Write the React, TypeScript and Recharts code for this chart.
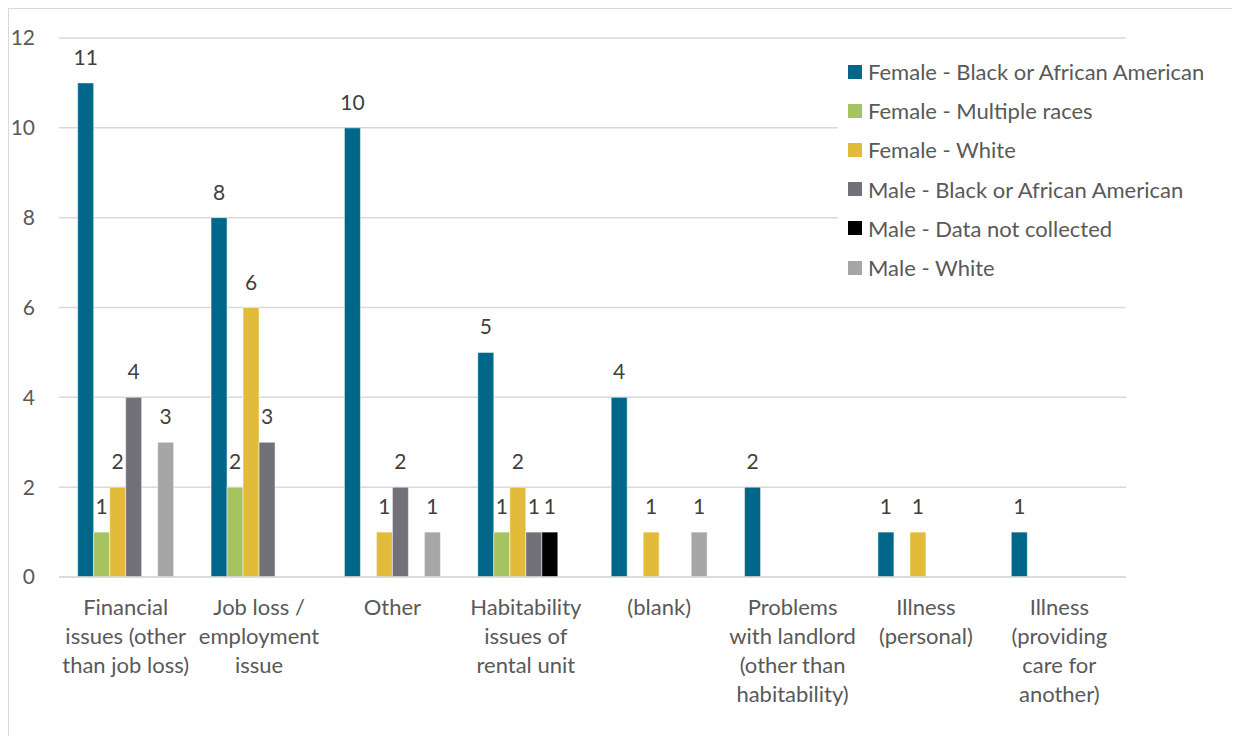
import React from 'react';
import { BarChart, Bar, XAxis, YAxis, CartesianGrid, Legend, LabelList } from 'recharts';

const categories = [
	'Financial\nissues (other\nthan job loss)',
	'Job loss /\nemployment\nissue',
	'Other',
	'Habitability\nissues of\nrental unit',
	'(blank)',
	'Problems\nwith landlord\n(other than\nhabitability)',
	'Illness\n(personal)',
	'Illness\n(providing\ncare for\nanother)',
];

const femaleBlack = [11, 8, 10, 5, 4, 2, 1, 1];
const femaleMultiple = [1, 2, 0, 1, 0, 0, 0, 0];
const femaleWhite = [2, 6, 1, 2, 1, 0, 1, 0];
const maleBlack = [4, 3, 2, 1, 0, 0, 0, 0];
const maleNotCollected = [0, 0, 0, 1, 0, 0, 0, 0];
const maleWhite = [3, 0, 1, 0, 1, 0, 0, 0];

const yTicks = [0, 2, 4, 6, 8, 10, 12];

const series = [
	{ key: 'Female - Black or African American', values: femaleBlack, color: '#00678A' },
	{ key: 'Female - Multiple races', values: femaleMultiple, color: '#A5C35F' },
	{ key: 'Female - White', values: femaleWhite, color: '#E3BB3B' },
	{ key: 'Male - Black or African American', values: maleBlack, color: '#72717A' },
	{ key: 'Male - Data not collected', values: maleNotCollected, color: '#000000' },
	{ key: 'Male - White', values: maleWhite, color: '#A6A6A6' },
];

const chartData = categories.map((name, i) => {
	const row: Record<string, string | number> = { name };
	series.forEach((s) => {
		row[s.key] = s.values[i];
	});
	return row;
});

const FONT = 'Lato, "Noto Sans", sans-serif';

function CategoryTick(props: any) {
	const { x, y, payload } = props;
	const lines = String(payload.value).split('\n');
	return (
		<text
			x={x}
			y={y}
			textAnchor='middle'
			fill='#595959'
			fontSize={22}
			fontFamily={FONT}>
			{lines.map((line, i) => (
				<tspan
					key={i}
					x={x}
					dy={i === 0 ? 30 : 29}>
					{line}
				</tspan>
			))}
		</text>
	);
}

function ValueLabel(props: any) {
	const { x, y, width, value } = props;
	if (!value) return null;
	return (
		<text
			x={x + width / 2}
			y={y - 18}
			textAnchor='middle'
			fill='#404040'
			fontSize={21}
			fontFamily={FONT}>
			{value}
		</text>
	);
}

function renderLegend(props: any) {
	const { payload } = props;
	return (
		<div style={{ background: '#fff', paddingLeft: 10 }}>
			{payload.map((entry: any) => (
				<div
					key={entry.value}
					style={{ display: 'flex', alignItems: 'center', height: 39.2 }}>
					<span style={{ width: 14, height: 14, background: entry.color, marginRight: 6, display: 'inline-block' }} />
					<span style={{ color: '#595959', fontSize: 22, fontFamily: FONT, whiteSpace: 'nowrap' }}>{entry.value}</span>
				</div>
			))}
		</div>
	);
}

export default function App() {
	return (
		<div
			style={{
				width: 1231,
				height: 727,
				borderTop: '1px solid #d9d9d9',
				borderLeft: '1px solid #d9d9d9',
				background: '#fff',
			}}>
			<BarChart
				width={1231}
				height={727}
				data={chartData}
				barCategoryGap='14%'
				barGap={0}
				margin={{ top: 29, right: 114, left: 10, bottom: 9 }}>
				<CartesianGrid
					vertical={false}
					stroke='#d9d9d9'
					strokeWidth={1.5}
				/>
				<XAxis
					dataKey='name'
					interval={0}
					height={150}
					tickLine={false}
					axisLine={{ stroke: '#d9d9d9', strokeWidth: 1.5 }}
					tick={<CategoryTick />}
				/>
				<YAxis
					width={40}
					domain={[0, 12]}
					ticks={yTicks}
					tickLine={false}
					axisLine={false}
					tickMargin={18}
					tick={{ fill: '#595959', fontSize: 21, fontFamily: FONT }}
				/>
				<Legend
					layout='vertical'
					verticalAlign='middle'
					align='center'
					content={renderLegend}
					wrapperStyle={{ top: 43, left: 829, width: 390 }}
				/>
				{series.map((s) => (
					<Bar
						key={s.key}
						dataKey={s.key}
						fill={s.color}
						stroke='#ffffff'
						strokeWidth={0.5}
						isAnimationActive={false}>
						<LabelList
							dataKey={s.key}
							content={<ValueLabel />}
						/>
					</Bar>
				))}
			</BarChart>
		</div>
	);
}
